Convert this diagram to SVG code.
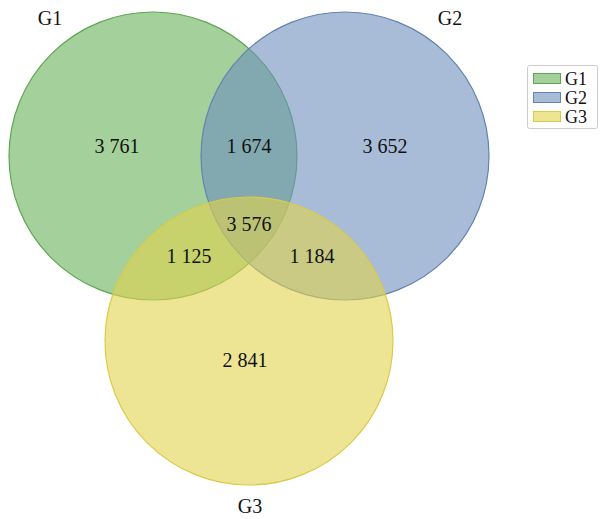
<svg xmlns="http://www.w3.org/2000/svg" width="600" height="519" viewBox="0 0 600 519">
<style>
text{font-family:"Liberation Serif","Times New Roman",serif;fill:#111;}
.n{font-size:20px;text-anchor:middle;}
.t{font-size:20px;text-anchor:middle;}
.lg{font-size:18px;}
.c{fill-opacity:0.6;stroke-width:1.2;}
</style>
<rect width="600" height="519" fill="#fff"/>
<g id="G1"><circle class="c" cx="153" cy="156" r="144" fill="#66b158" stroke="#5fa653"/></g>
<g id="G2"><circle class="c" cx="345" cy="156" r="144" fill="#6e8fbe" stroke="#6483b0"/></g>
<g id="G3"><circle class="c" cx="249" cy="341" r="144" fill="#e1d44d" stroke="#d9cb4a"/></g>
<g id="labels">
<text class="t" x="50" y="25">G1</text>
<text class="t" x="450" y="25">G2</text>
<text class="t" x="250" y="513">G3</text>
<text class="n" x="117" y="153">3 761</text>
<text class="n" x="249" y="153">1 674</text>
<text class="n" x="385" y="153">3 652</text>
<text class="n" x="249" y="231">3 576</text>
<text class="n" x="189" y="263">1 125</text>
<text class="n" x="312" y="263">1 184</text>
<text class="n" x="245" y="367">2 841</text>
</g>
<g id="legend">
<rect x="527.5" y="65.5" width="70" height="63" fill="#fff" stroke="#ccc" rx="2"/>
<rect x="533.5" y="73.5" width="27" height="10" fill="#66b158" fill-opacity="0.6" stroke="#5fa653"/>
<rect x="533.5" y="92.5" width="27" height="10" fill="#6e8fbe" fill-opacity="0.6" stroke="#6483b0"/>
<rect x="533.5" y="111.5" width="27" height="10" fill="#e1d44d" fill-opacity="0.6" stroke="#d9cb4a"/>
<text class="lg" x="565" y="85">G1</text>
<text class="lg" x="565" y="104">G2</text>
<text class="lg" x="565" y="123">G3</text>
</g>
</svg>
